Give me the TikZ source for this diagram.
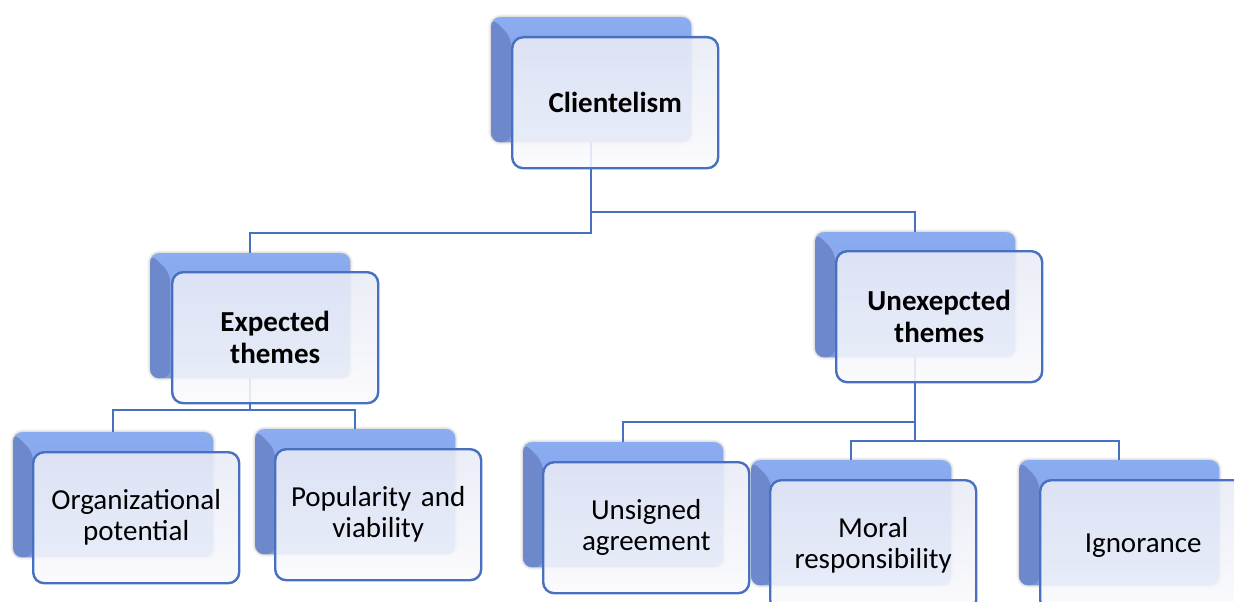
\documentclass[tikz,border=0pt]{standalone}
\usepackage{fontspec}
\setmainfont{Carlito}
\usetikzlibrary{shadows.blur}

\definecolor{lineblue}{HTML}{4770C0}
\definecolor{backtop}{HTML}{8BACF1}
\definecolor{backbot}{HTML}{7C9CE2}
\definecolor{bevel}{HTML}{6E89CB}
\definecolor{facetop}{HTML}{E8EBF6}
\definecolor{facebot}{HTML}{FAFAFD}

\tikzset{
  backbox/.style={anchor=north west, inner sep=0pt,
    minimum width=200pt, minimum height=125pt, rounded corners=9pt,
    top color=backtop, bottom color=backbot,
    path picture={
      \fill[bevel] (path picture bounding box.north west)
        -- ([xshift=20pt,yshift=-20pt]path picture bounding box.north west)
        -- ([xshift=20pt]path picture bounding box.south west)
        -- (path picture bounding box.south west) -- cycle;},
    blur shadow={shadow xshift=0pt, shadow yshift=0pt,
      shadow blur radius=3pt, shadow opacity=35}},
  facebox/.style={anchor=north west, inner sep=0pt,
    minimum width=206pt, minimum height=131pt, text width=200pt,
    rounded corners=11pt, draw=lineblue, line width=2.4pt,
    top color=facetop, bottom color=facebot,
    fill opacity=0.88, text opacity=1, align=center,
    font=\fontsize{29}{31}\selectfont},
  boldface/.style={font=\fontsize{29}{32}\selectfont\bfseries},
  conn/.style={draw=lineblue, line width=2.4pt},
}

\begin{document}
\begin{tikzpicture}[x=1pt, y=-1pt]
  \useasboundingbox (0,0) rectangle (1234,602);
  \clip (0,0) rectangle (1234,602);

  % rear tiles
  \node[backbox] (clB)  at (491,17)  {};
  \node[backbox] (exB)  at (150,253) {};
  \node[backbox] (unB)  at (815,232) {};
  \node[backbox] (orgB) at (13,432)  {};
  \node[backbox] (popB) at (255,429) {};
  \node[backbox] (unsB) at (523,442) {};
  \node[backbox] (morB) at (751,460) {};
  \node[backbox] (ignB) at (1019,460) {};

  % bus rows of the tree
  \coordinate (busTop)  at (0,212);
  \coordinate (busTopB) at (0,233);
  \coordinate (busEx)   at (0,410);
  \coordinate (busUnA)  at (0,422);
  \coordinate (busUnB)  at (0,441);

  % connectors
  \draw[conn] (clB.south) -- (clB.south |- busTop) -| (unB.north);
  \draw[conn] (clB.south |- busTop) -- (clB.south |- busTopB) -| (exB.north);
  \draw[conn] (exB.south) -- (exB.south |- busEx) -| (orgB.north);
  \draw[conn] (exB.south |- busEx) -| (popB.north);
  \draw[conn] (unB.south) -- (unB.south |- busUnA) -| (unsB.north);
  \draw[conn] (unB.south |- busUnA) -- (unB.south |- busUnB) -| (morB.north);
  \draw[conn] (unB.south |- busUnB) -| (ignB.north);

  % front tiles with labels
  \node[facebox, boldface] (cl)  at (511,36)  {Clientelism};
  \node[facebox, boldface] (ex)  at (171,271) {Expected\\themes};
  \node[facebox, boldface] (un)  at (835,250) {Unexepcted\\themes};
  \node[facebox] (org) at (32,451)  {Organizational\\potential};
  \node[facebox] (pop) at (274,448) {Popularity and\\viability};
  \node[facebox] (uns) at (542,461) {Unsigned\\agreement};
  \node[facebox] (mor) at (769,479) {Moral\\responsibility};
  \node[facebox] (ign) at (1039,479) {Ignorance};
\end{tikzpicture}
\end{document}
